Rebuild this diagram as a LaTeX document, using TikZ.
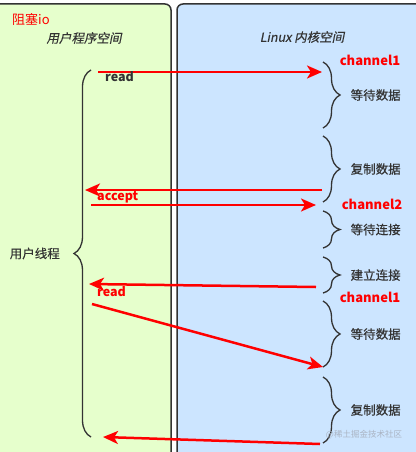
\documentclass[tikz,border=0pt]{standalone}
\usepackage{fontspec}
\setmainfont{Noto Sans CJK SC}
\newfontfamily\heavycjk[FakeBold=0.35]{Noto Sans CJK SC}
\newfontfamily\slantcjk[FakeSlant=0.2, FakeBold=0.35]{Noto Sans CJK SC}
\usetikzlibrary{arrows.meta, decorations.pathreplacing, positioning}
\definecolor{cUser}{RGB}{230,255,204}
\definecolor{cKernel}{RGB}{204,229,255}
\definecolor{cRed}{RGB}{255,0,0}
\definecolor{cDark}{RGB}{51,51,51}
\definecolor{cMark}{RGB}{170,180,195}
\tikzset{
	panel/.style  ={draw=cDark, line width=1.5pt, rounded corners=6pt},
	brc/.style    ={decorate, decoration={brace, amplitude=17pt}, draw=cDark, line width=1.3pt},
	call/.style   ={draw=cRed, line width=2.5pt, -{Stealth[length=15pt, width=13pt, inset=4pt]}},
	phase/.style  ={inner sep=1pt, text=cDark, font=\heavycjk\fontsize{12.5}{14}\selectfont},
	chan/.style   ={inner sep=0pt, text=cRed, font=\bfseries\fontsize{13}{14}\selectfont},
	op/.style     ={inner sep=0pt, text=cRed, font=\bfseries\fontsize{12.5}{14}\selectfont},
	space/.style  ={inner sep=0pt, text=cDark, font=\slantcjk\fontsize{12.5}{14}\selectfont},
}
\begin{document}
\begin{tikzpicture}[x=1pt, y=-1pt]
	\useasboundingbox[fill=white] (0,0) rectangle (415,452);
	% user space and kernel space
	\draw[panel, fill=cUser] (-10,4) rectangle (171,470);
	\draw[panel, fill=cKernel] (177,4) rectangle (425,470);
	\node[inner sep=0pt, text=cRed, font=\fontsize{13}{14}\selectfont, anchor=west] (title) at (12,20) {阻塞io};
	\node[space] (userspace) at (84,38) {用户程序空间};
	\node[space] (kernelspace) at (302,37) {Linux 内核空间};
	% kernel phases
	\foreach \ytop/\ybot/\txt/\nm in {62/128/等待数据/wait1, 136/202/复制数据/copy1, 211/248/等待连接/waitc, 257/293/建立连接/estc, 301/367/等待数据/wait2, 377/443/复制数据/copy2}
		\draw[brc] (323,\ytop) -- coordinate[midway] (\nm) (323,\ybot) node[phase, right=26pt of \nm] (\nm lbl) {\txt};
	\node[chan] (ch1) at (370,60) {channel1};
	\node[chan] (ch2) at (372,204) {channel2};
	\node[chan] (ch3) at (370,297) {channel1};
	% user thread
	\draw[brc] (91,437) -- coordinate[midway] (ut) (91,70);
	\node[phase, left=30pt of ut] (utlbl) {用户线程};
	% calls
	\coordinate (r1s) at (98,72);   \coordinate (r1e) at (322,72);
	\coordinate (r1b) at (322,190); \coordinate (r1r) at (85,190);
	\coordinate (acs) at (91,205);  \coordinate (ace) at (316,205);
	\coordinate (acb) at (316,287); \coordinate (acr) at (89,284);
	\coordinate (r2s) at (92,304);  \coordinate (r2e) at (323,367);
	\coordinate (r2b) at (320,444); \coordinate (r2r) at (103,437);
	\draw[call] (r1s) -- (r1e);
	\draw[call] (r1b) -- (r1r);
	\draw[call] (acs) -- (ace);
	\draw[call] (acb) -- (acr);
	\draw[call] (r2s) -- (r2e);
	\draw[call] (r2b) -- (r2r);
	\node[op, text=cDark, anchor=west] (read1) at (105,77) {read};
	\node[op, anchor=west] (accept) at (97,197) {accept};
	\node[op, anchor=west] (read2) at (97,292) {read};
	\node[inner sep=0pt, text=cMark, font=\fontsize{8.5}{9}\selectfont] (mark) at (364,435) {@稀土掘金技术社区};
\end{tikzpicture}
\end{document}
